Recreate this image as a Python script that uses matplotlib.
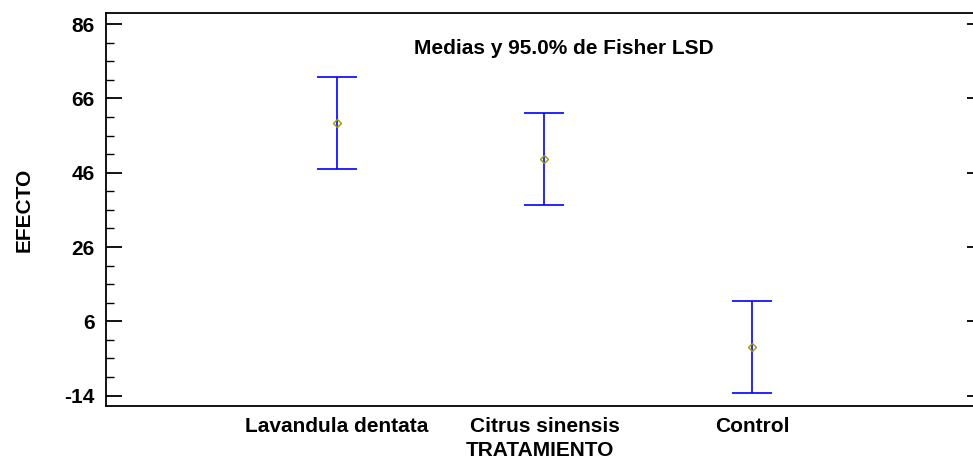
import matplotlib
matplotlib.use("Agg")
import matplotlib.pyplot as plt
from matplotlib.ticker import FixedLocator
import numpy as np

categories = ["Lavandula dentata", "Citrus sinensis", "Control"]
means = [59.4, 49.7, -0.9]
lsd_half = [12.45, 12.5, 12.45]
y_ticks = [-14, 6, 26, 46, 66, 86]

plt.rcParams['font.family'] = ['Liberation Sans', 'DejaVu Sans']
plt.rcParams['axes.unicode_minus'] = False

FS = 15

fig = plt.figure(figsize=(9.73, 4.61), dpi=100)
ax = fig.add_axes([106/973, 1 - 406/461, (973-106)/973, (406-13)/461])

x = np.arange(1, len(categories) + 1)
ax.errorbar(x, means, yerr=lsd_half, fmt='none', ecolor='#0000ff', elinewidth=1.2,
            capsize=14.5, capthick=1.2)
ax.plot(x, means, linestyle='none', marker='D', markersize=4, markerfacecolor='none',
        markeredgecolor='#9a9a00', markeredgewidth=1.0)

ax.set_xlim(-0.113, 4.065)
ax.set_ylim(-16.8, 89)
ax.set_xticks(x)
ax.set_xticklabels(categories, fontsize=FS, fontweight='bold')
ax.tick_params(axis='x', length=0, pad=8)

ax.yaxis.set_major_locator(FixedLocator(y_ticks))
ax.yaxis.set_minor_locator(FixedLocator([v for v in np.arange(-14, 87, 5) if v not in y_ticks]))
ax.tick_params(axis='y', which='major', direction='in', length=11.5, width=1.3,
               labelsize=FS, pad=8, left=True, right=False)
for lbl in ax.get_yticklabels():
    lbl.set_fontweight('bold')
ax.tick_params(axis='y', which='minor', direction='in', length=5.8, width=1.0, left=True, right=False)

for s in ['top', 'left', 'bottom']:
    ax.spines[s].set_linewidth(1.3)
ax.spines['right'].set_visible(False)

# right-side short major ticks
ax2 = ax.twinx()
ax2.set_ylim(ax.get_ylim())
ax2.yaxis.set_major_locator(FixedLocator(y_ticks))
ax2.tick_params(axis='y', which='major', direction='in', length=4.5, width=1.3,
                labelright=False)
for s in ax2.spines.values():
    s.set_visible(False)

ax.set_ylabel("EFECTO", fontsize=FS, fontweight='bold', labelpad=22)
ax.set_xlabel("TRATAMIENTO", fontsize=FS, fontweight='bold', labelpad=3.5)
ax.text(0.528, 0.91, "Medias y 95.0% de Fisher LSD", transform=ax.transAxes,
        ha='center', va='center', fontsize=FS, fontweight='bold')

fig.savefig("out.png", dpi=100)
